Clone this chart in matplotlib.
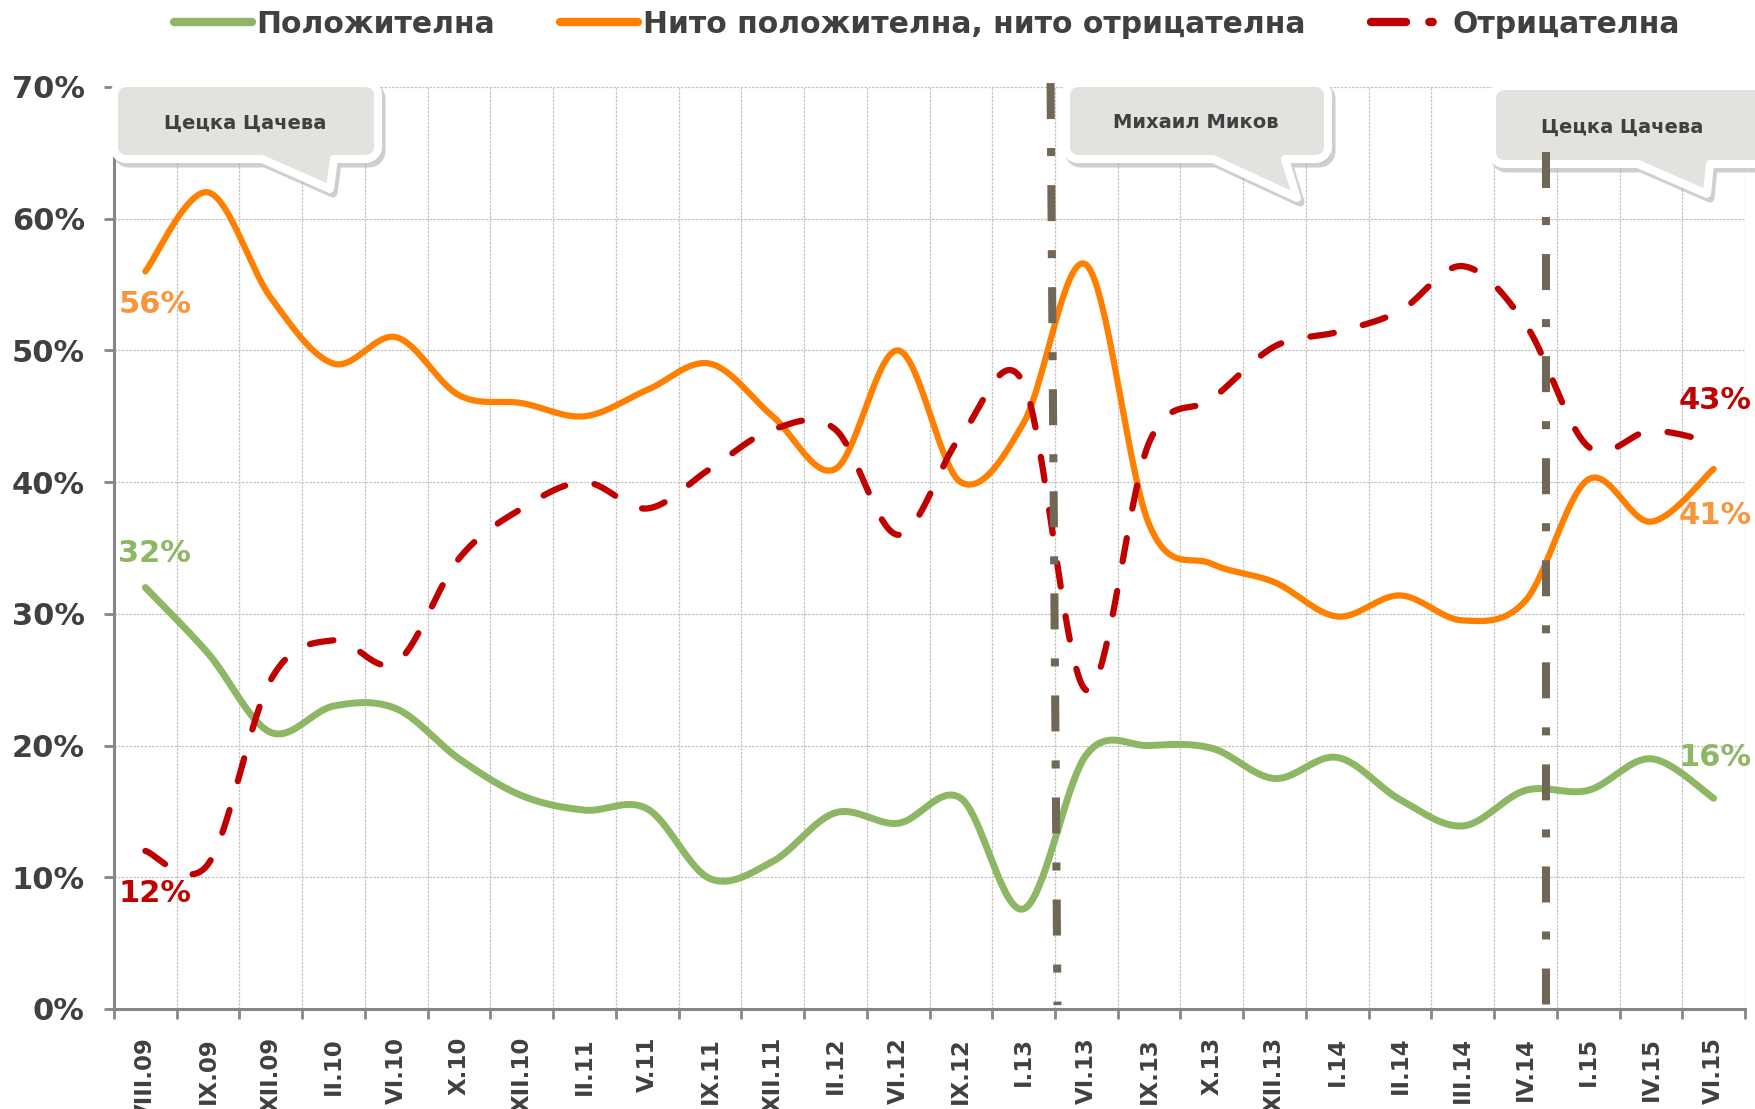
import numpy as np
import matplotlib
matplotlib.use('Agg')
import matplotlib.pyplot as plt
from matplotlib.patches import Polygon
from matplotlib.lines import Line2D

plt.rcParams['font.family'] = ['DejaVu Sans']

# ---- data ----
periods = ['VIII.09', 'IX.09', 'XII.09', 'II.10', 'VI.10', 'X.10', 'XII.10', 'II.11', 'V.11',
           'IX.11', 'XII.11', 'II.12', 'VI.12', 'IX.12', 'I.13', 'VI.13', 'IX.13', 'X.13',
           'XII.13', 'I.14', 'II.14', 'III.14', 'IV.14', 'I.15', 'IV.15', 'VI.15']
positive = [32, 27, 21, 23, 22.8, 19, 16.2, 15.1, 15.2, 9.9, 11.2, 14.9, 14.1, 16, 7.6,
            19.3, 20, 19.8, 17.5, 19.1, 15.9, 13.9, 16.6, 16.6, 19, 16]
neutral = [56, 62, 54, 49, 51, 46.6, 46, 45, 47, 49, 45, 41, 50, 40, 44.5,
           56.5, 36.8, 33.8, 32.4, 29.8, 31.4, 29.5, 31, 40.2, 37, 41]
negative = [12, 11, 25, 28, 26.3, 34.2, 38, 40, 38, 41, 44, 44, 36, 43.5, 47.5,
            24.2, 43, 46.3, 50.3, 51.4, 53, 56.4, 52, 42.7, 43.9, 43]
series_names = ['Положителна', 'Нито положителна, нито отрицателна', 'Отрицателна']
speakers = ['Цецка Цачева', 'Михаил Миков', 'Цецка Цачева']

green = '#8DB765'
orange = '#FF8000'
orange_lbl = '#F7963C'
red = '#C00000'
vcol = '#716757'
txt = '#404040'

W, H = 1756, 1109


def smooth(xs, ys, n=40):
    # excel-like smoothed line (bezier through the points)
    pts = np.column_stack([xs, ys]).astype(float)
    P = np.vstack([pts[0], pts, pts[-1]])
    out = []
    t = np.linspace(0, 1, n)[:, None]
    for i in range(len(pts) - 1):
        p0, p1, p2, p3 = P[i], P[i + 1], P[i + 2], P[i + 3]
        c1 = p1 + (p2 - p0) / 6
        c2 = p2 - (p3 - p1) / 6
        seg = (1 - t)**3 * p1 + 3 * (1 - t)**2 * t * c1 + 3 * (1 - t) * t**2 * c2 + t**3 * p2
        out.append(seg if i == 0 else seg[1:])
    out = np.vstack(out)
    return out[:, 0], out[:, 1]


def callout_pts(x0, y0, x1, y1, tl, tip, tr, r=12, dx=0, dy=0):
    # rounded box with a tail, figure pixel coords (y down)
    pts = []
    def arc(cx, cy, a0, a1):
        for a in np.linspace(a0, a1, 10):
            pts.append((cx + r * np.cos(a), cy + r * np.sin(a)))
    arc(x0 + r, y0 + r, np.pi, 1.5 * np.pi)
    arc(x1 - r, y0 + r, 1.5 * np.pi, 2 * np.pi)
    arc(x1 - r, y1 - r, 0, 0.5 * np.pi)
    pts.append((tr, y1))
    pts.append(tip)
    pts.append((tl, y1))
    arc(x0 + r, y1 - r, 0.5 * np.pi, np.pi)
    return [((px + dx) / W, 1 - (py + dy) / H) for px, py in pts]


def callout(ax, x0, y0, x1, y1, tl, tip, tr):
    e = 4  # path sits half-way in the white border
    args = (x0 - e, y0 - e, x1 + e, y1 + e, tl, (tip[0] + 2, tip[1] + e), tr)
    shadow = Polygon(callout_pts(*args, dx=3, dy=4), closed=True, transform=ax.figure.transFigure,
                     clip_on=False, facecolor='#A8A8A8', edgecolor='#A8A8A8', lw=6.5,
                     joinstyle='round', alpha=0.55, zorder=4.9)
    box = Polygon(callout_pts(*args), closed=True, transform=ax.figure.transFigure, clip_on=False,
                  facecolor='#E4E2DE', edgecolor='white', lw=5.8, joinstyle='round', zorder=5)
    ax.add_patch(shadow)
    ax.add_patch(box)


fig = plt.figure(figsize=(W / 100, H / 100), dpi=100, facecolor='white')
ax = fig.add_axes([114 / W, 1 - 1009 / H, (1745 - 114) / W, (1009 - 87) / H])

x = np.arange(len(periods))

sx, sy = smooth(x, positive)
ax.plot(sx, sy, color=green, lw=5, solid_capstyle='round', zorder=4)
sx, sy = smooth(x, neutral)
ax.plot(sx, sy, color=orange, lw=4.5, solid_capstyle='round', zorder=4)
sx, sy = smooth(x, negative)
ax.plot(sx, sy, color=red, lw=4.5, dashes=(3.8, 4.8), dash_capstyle='round', zorder=4)

# leadership change markers
ax.plot([14.43, 14.54], [70.3, 0.3], color=vcol, lw=5.8, dashes=(4.47, 3.6, 1.0, 3.6),
        dash_capstyle='butt', clip_on=False, zorder=6)
ax.plot([22.32, 22.32], [65.07, 0.3], color=vcol, lw=5.8, dashes=(4.47, 3.6, 1.0, 3.6),
        dash_capstyle='butt', clip_on=False, zorder=6)

# callouts
callout(ax, 118, 87, 374, 155, 262, (328, 185), 334)
callout(ax, 1070, 87, 1324, 155, 1213, (1295, 194), 1285)
callout(ax, 1496, 90, 1775, 160, 1638, (1705, 190), 1710)
for (px, py), name in zip([(245, 123), (1196, 123), (1622, 127)], speakers):
    ax.text(px / W, 1 - py / H, name, transform=fig.transFigure, ha='center', va='center',
            fontsize=14, fontweight='bold', color=txt, zorder=7)

# end labels
lab_kw = dict(ha='center', va='center', fontsize=22, fontweight='bold', clip_on=False, zorder=7)
ax.text(0.15, 53.5, '%d%%' % neutral[0], color=orange_lbl, **lab_kw)
ax.text(0.15, 34.6, '%d%%' % positive[0], color=green, **lab_kw)
ax.text(0.15, 8.8, '%d%%' % negative[0], color=red, **lab_kw)
ax.text(25.03, 46.2, '%d%%' % negative[-1], color=red, **lab_kw)
ax.text(25.03, 37.5, '%d%%' % neutral[-1], color=orange_lbl, **lab_kw)
ax.text(25.03, 19.1, '%d%%' % positive[-1], color=green, **lab_kw)

# axes styling
ax.set_xlim(-0.5, len(periods) - 0.5)
ax.set_ylim(0, 70)
ax.set_xticks(x)
ax.set_xticklabels(periods, rotation=90, fontsize=16.5, fontweight='bold', color=txt, va='top')
ax.set_xticks(np.arange(len(periods) + 1) - 0.5, minor=True)
ax.set_yticks(np.arange(0, 71, 10))
ax.set_yticklabels(['%d%%' % v for v in range(0, 71, 10)], fontsize=22, fontweight='bold', color=txt)
ax.tick_params(axis='x', which='major', length=0, pad=20)
ax.tick_params(axis='x', which='minor', length=7, width=2, color='#878787', direction='out')
ax.tick_params(axis='y', length=7, width=2, color='#878787', pad=14)
ax.grid(True, axis='y', which='major', color='#C4C4C4', lw=0.9, ls=(0, (2, 1)))
ax.grid(True, axis='x', which='minor', color='#C4C4C4', lw=0.9, ls=(0, (2, 1)))
for s in ['top', 'right']:
    ax.spines[s].set_visible(False)
for s in ['left', 'bottom']:
    ax.spines[s].set_color('#878787')
    ax.spines[s].set_linewidth(2.2)
ax.set_axisbelow(True)

handles = [Line2D([], [], color=green, lw=6, solid_capstyle='round'),
           Line2D([], [], color=orange, lw=6, solid_capstyle='round'),
           Line2D([], [], color=red, lw=6, dashes=(4.2, 2.8, 0.4, 10), dash_capstyle='round')]
fig.legend(handles, series_names, loc='center', bbox_to_anchor=(0.528, 0.978), ncol=3,
           frameon=False, handlelength=2.6, handletextpad=0.15, columnspacing=2.2,
           prop={'weight': 'bold', 'size': 21.5}, labelcolor=txt)

plt.savefig('out.png', dpi=100, facecolor='white')
